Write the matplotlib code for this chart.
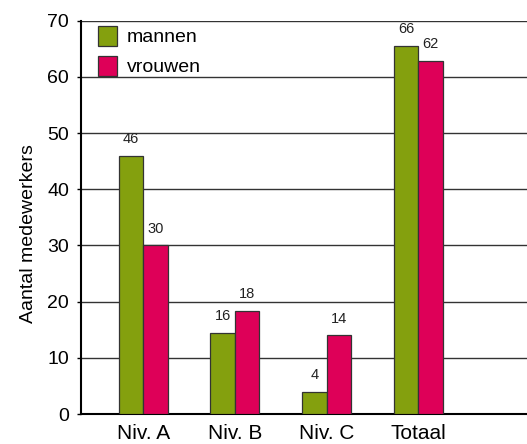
import numpy as np
import matplotlib
matplotlib.use("Agg")
import matplotlib.pyplot as plt

plt.rcParams['font.family'] = ['Liberation Sans', 'DejaVu Sans']

categories = ['Niv. A', 'Niv. B', 'Niv. C', 'Totaal']
# bar heights as drawn in the picture, and the numbers printed above them
mannen = [46, 14.4, 4, 65.5]
vrouwen = [30, 18.3, 14, 62.8]
mannen_labels = ['46', '16', '4', '66']
vrouwen_labels = ['30', '18', '14', '62']
yticks = [0, 10, 20, 30, 40, 50, 60, 70]

green = '#84a00e'
pink = '#de0058'

fig = plt.figure(figsize=(5.27, 4.44), dpi=100)
ax = fig.add_axes([80.7 / 527, 30 / 444, 1 - 80.7 / 527, 393.3 / 444])

x = np.arange(len(categories))
w = 0.267
b1 = ax.bar(x - w / 2, mannen, w, color=green, edgecolor='#333333', linewidth=0.9,
            label='mannen', zorder=3)
b2 = ax.bar(x + w / 2, vrouwen, w, color=pink, edgecolor='#333333', linewidth=0.9,
            label='vrouwen', zorder=3)

for bars, labels in ((b1, mannen_labels), (b2, vrouwen_labels)):
    for rect, lab in zip(bars, labels):
        ax.annotate(lab, (rect.get_x() + rect.get_width() / 2, rect.get_height()),
                    xytext=(0, 7), textcoords='offset points', ha='center', va='bottom',
                    fontsize=10.5, color='#222222')

ax.set_xlim(-0.683, 4.186)
ax.set_ylim(0, 70)
ax.set_yticks(yticks)
ax.set_xticks(x)
ax.set_xticklabels(categories)
ax.tick_params(axis='x', length=0, pad=7, labelsize=15)
ax.tick_params(axis='y', length=3, width=1, direction='out', pad=5.5, labelsize=14)
ax.yaxis.grid(True, color='#333333', linewidth=1)
ax.set_axisbelow(True)

for s in ('top', 'right'):
    ax.spines[s].set_visible(False)
ax.spines['left'].set_linewidth(1.5)
ax.spines['bottom'].set_linewidth(1.5)

ax.set_ylabel('Aantal medewerkers', fontsize=14)
ax.yaxis.set_label_coords(-0.097, 0.458)

leg = ax.legend(loc='upper left', bbox_to_anchor=(0.017, 1.012), frameon=False,
                fontsize=14, handlelength=1.0, handleheight=1.2,
                handletextpad=0.5, labelspacing=0.5, borderaxespad=0.1)

fig.savefig('out.png', dpi=100)
